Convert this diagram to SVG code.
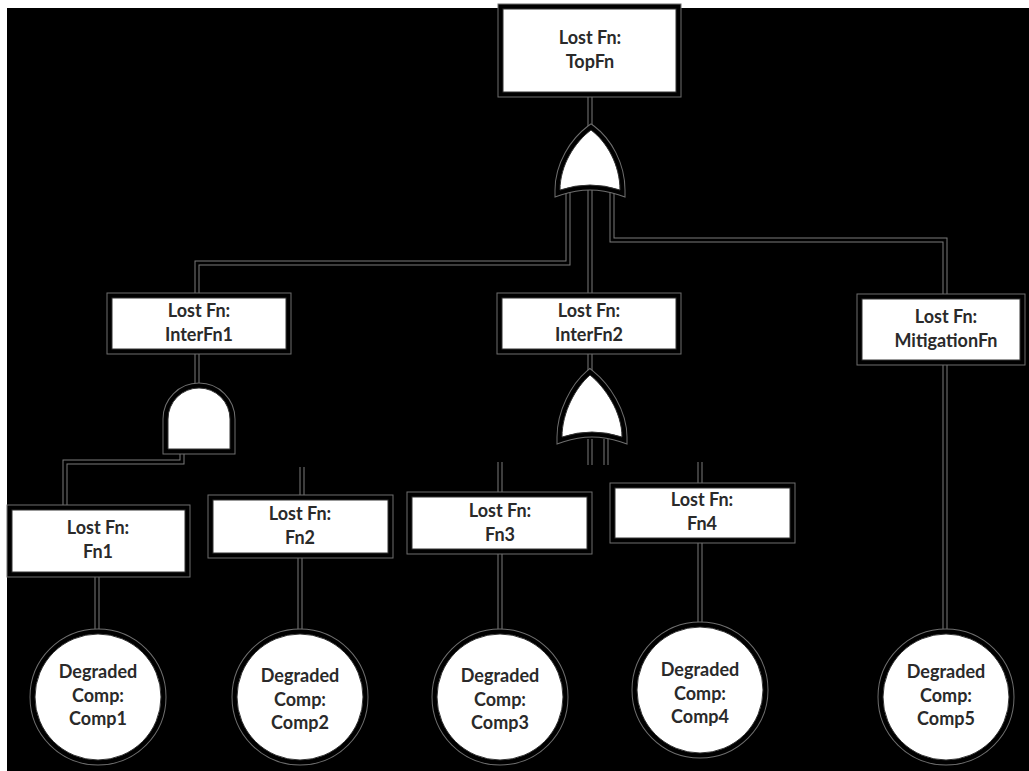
<svg xmlns="http://www.w3.org/2000/svg" xmlns:xlink="http://www.w3.org/1999/xlink" width="1029" height="771" viewBox="0 0 1029 771">
  <style>
    .halo { fill: none; stroke: #7a7a7a; stroke-width: 5; }
    .core { fill: none; stroke: #000; stroke-width: 3; }
    .ring { fill: none; stroke: #6e6e6e; stroke-width: 11; }
    .gap { fill: none; stroke: #000; stroke-width: 9; }
    .body { fill: #fff; stroke: #333; stroke-width: 1; }
    text { font-family: Lato, "Liberation Sans", sans-serif; font-weight: 700; font-size: 18px; fill: #2a2a2a; text-anchor: middle; }
  </style>

  <!-- page -->
  <rect x="0" y="0" width="1029" height="771" fill="#fff"/>
  <rect x="7" y="8" width="1022" height="763" fill="#000"/>

  <!-- connectors: a grey halo with a black core gives the thin double line -->
  <g id="connectors">
    <g class="halo">
      <g id="wire-paths">
        <path d="M590,97 V126"/>
        <path d="M568,192 V263 H197 V293"/>
        <path d="M590,185 V293"/>
        <path d="M612,192 V240 H945 V294"/>
        <path d="M590,354 V372"/>
        <path d="M590,439 V465"/>
        <path d="M606,439 V465"/>
        <path d="M500,462 V492"/>
        <path d="M700,462 V483"/>
        <path d="M197,354 V384"/>
        <path d="M182,450 V462 H65 V510"/>
        <path d="M302,467 V495"/>
        <path d="M97,577 V630"/>
        <path d="M300,558 V630"/>
        <path d="M500,554 V630"/>
        <path d="M700,543 V625"/>
        <path d="M945,365 V630"/>
      </g>
    </g>
    <use xlink:href="#wire-paths" class="core"/>
    <circle cx="65" cy="511" r="2.5" fill="#000"/>
  </g>

  <!-- top event -->
  <g id="top-fn">
    <rect class="ring" x="503" y="9" width="173" height="83"/>
    <rect class="gap" x="503" y="9" width="173" height="83"/>
    <rect class="body" x="503" y="9" width="173" height="83"/>
    <text x="590" y="44">Lost Fn:</text>
    <text x="590" y="68">TopFn</text>
  </g>

  <!-- OR gate under the top event -->
  <g id="or-gate-top">
    <path class="ring" d="M560,190 C560,165 575,142 591,130 C607,142 620,165 620,190 Q590,180 560,190 Z"/>
    <path class="gap" d="M560,190 C560,165 575,142 591,130 C607,142 620,165 620,190 Q590,180 560,190 Z"/>
    <path class="body" d="M560,190 C560,165 575,142 591,130 C607,142 620,165 620,190 Q590,180 560,190 Z"/>
  </g>

  <g id="inter-fn1">
    <rect class="ring" x="112" y="298" width="174" height="51"/>
    <rect class="gap" x="112" y="298" width="174" height="51"/>
    <rect class="body" x="112" y="298" width="174" height="51"/>
    <text x="199" y="317">Lost Fn:</text>
    <text x="199" y="341">InterFn1</text>
  </g>

  <g id="inter-fn2">
    <rect class="ring" x="502" y="298" width="174" height="51"/>
    <rect class="gap" x="502" y="298" width="174" height="51"/>
    <rect class="body" x="502" y="298" width="174" height="51"/>
    <text x="589" y="317">Lost Fn:</text>
    <text x="589" y="341">InterFn2</text>
  </g>

  <g id="mitigation-fn">
    <rect class="ring" x="862" y="299" width="158" height="61"/>
    <rect class="gap" x="862" y="299" width="158" height="61"/>
    <rect class="body" x="862" y="299" width="158" height="61"/>
    <text x="946" y="323">Lost Fn:</text>
    <text x="946" y="347">MitigationFn</text>
  </g>

  <!-- AND gate under InterFn1 -->
  <g id="and-gate">
    <path class="ring" d="M168,449 V419 A31,31 0 0 1 230,419 V449 Z"/>
    <path class="gap" d="M168,449 V419 A31,31 0 0 1 230,419 V449 Z"/>
    <path class="body" d="M168,449 V419 A31,31 0 0 1 230,419 V449 Z"/>
  </g>

  <!-- OR gate under InterFn2 -->
  <g id="or-gate-inter">
    <path class="ring" d="M562,437 C562,412 576,387 590,375 C605,387 622,412 622,437 Q592,427 562,437 Z"/>
    <path class="gap" d="M562,437 C562,412 576,387 590,375 C605,387 622,412 622,437 Q592,427 562,437 Z"/>
    <path class="body" d="M562,437 C562,412 576,387 590,375 C605,387 622,412 622,437 Q592,427 562,437 Z"/>
  </g>

  <g id="fn1">
    <rect class="ring" x="12" y="510" width="173" height="62"/>
    <rect class="gap" x="12" y="510" width="173" height="62"/>
    <rect class="body" x="12" y="510" width="173" height="62"/>
    <text x="98" y="534">Lost Fn:</text>
    <text x="98" y="558">Fn1</text>
  </g>

  <g id="fn2">
    <rect class="ring" x="213" y="500" width="175" height="53"/>
    <rect class="gap" x="213" y="500" width="175" height="53"/>
    <rect class="body" x="213" y="500" width="175" height="53"/>
    <text x="300" y="520">Lost Fn:</text>
    <text x="300" y="544">Fn2</text>
  </g>

  <g id="fn3">
    <rect class="ring" x="412" y="497" width="175" height="52"/>
    <rect class="gap" x="412" y="497" width="175" height="52"/>
    <rect class="body" x="412" y="497" width="175" height="52"/>
    <text x="500" y="517">Lost Fn:</text>
    <text x="500" y="541">Fn3</text>
  </g>

  <g id="fn4">
    <rect class="ring" x="615" y="488" width="175" height="50"/>
    <rect class="gap" x="615" y="488" width="175" height="50"/>
    <rect class="body" x="615" y="488" width="175" height="50"/>
    <text x="702" y="506">Lost Fn:</text>
    <text x="702" y="530">Fn4</text>
  </g>

  <!-- degraded components -->
  <g id="comp1">
    <circle class="ring" cx="98" cy="697" r="63"/>
    <circle class="gap" cx="98" cy="697" r="63"/>
    <circle class="body" cx="98" cy="697" r="63"/>
    <text x="98" y="678">Degraded</text>
    <text x="98" y="702">Comp:</text>
    <text x="98" y="725">Comp1</text>
  </g>

  <g id="comp2">
    <circle class="ring" cx="300" cy="697" r="63"/>
    <circle class="gap" cx="300" cy="697" r="63"/>
    <circle class="body" cx="300" cy="697" r="63"/>
    <text x="300" y="682">Degraded</text>
    <text x="300" y="706">Comp:</text>
    <text x="300" y="729">Comp2</text>
  </g>

  <g id="comp3">
    <circle class="ring" cx="500" cy="697" r="63"/>
    <circle class="gap" cx="500" cy="697" r="63"/>
    <circle class="body" cx="500" cy="697" r="63"/>
    <text x="500" y="682">Degraded</text>
    <text x="500" y="706">Comp:</text>
    <text x="500" y="729">Comp3</text>
  </g>

  <g id="comp4">
    <circle class="ring" cx="700" cy="690" r="63"/>
    <circle class="gap" cx="700" cy="690" r="63"/>
    <circle class="body" cx="700" cy="690" r="63"/>
    <text x="700" y="676">Degraded</text>
    <text x="700" y="700">Comp:</text>
    <text x="700" y="723">Comp4</text>
  </g>

  <g id="comp5">
    <circle class="ring" cx="946" cy="697" r="63"/>
    <circle class="gap" cx="946" cy="697" r="63"/>
    <circle class="body" cx="946" cy="697" r="63"/>
    <text x="946" y="678">Degraded</text>
    <text x="946" y="702">Comp:</text>
    <text x="946" y="725">Comp5</text>
  </g>
</svg>
